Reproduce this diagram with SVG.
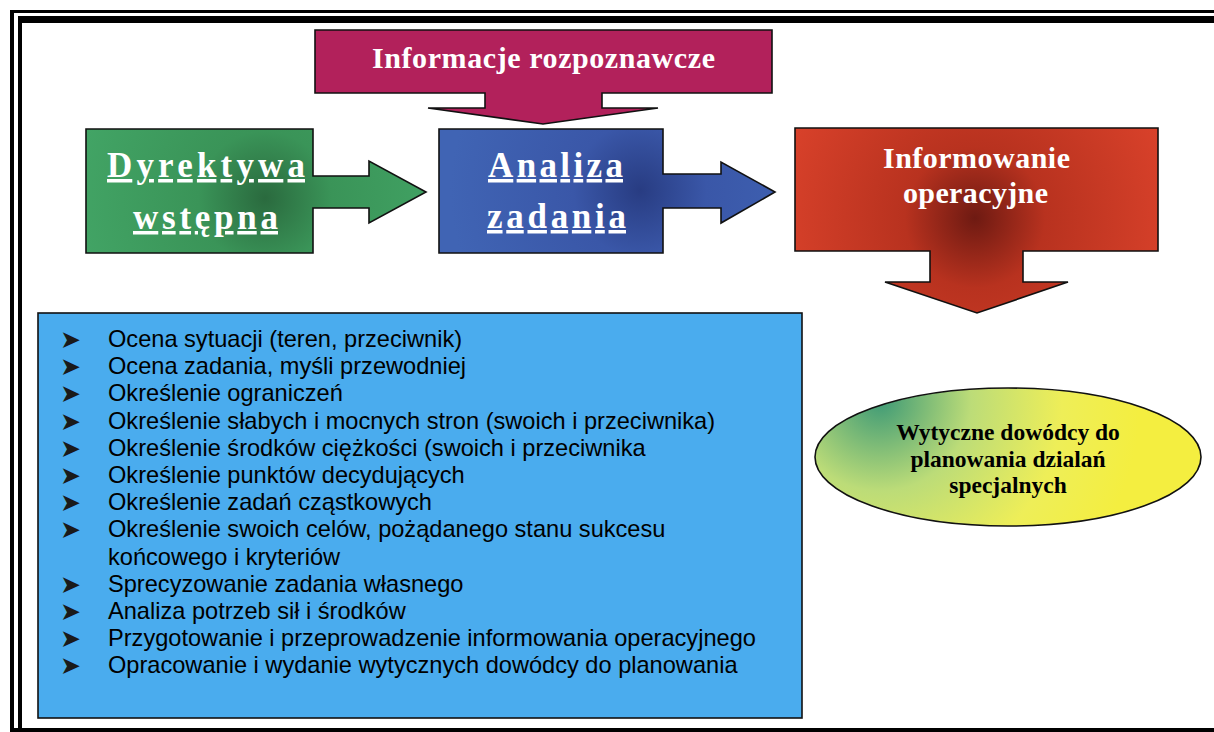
<svg xmlns="http://www.w3.org/2000/svg" width="1214" height="732" viewBox="0 0 1214 732">
<defs>
<radialGradient id="gGreen" gradientUnits="userSpaceOnUse" cx="265" cy="198" r="190">
<stop offset="0" stop-color="#2a6a3e"/><stop offset="0.35" stop-color="#3a9458"/><stop offset="1" stop-color="#42a465"/>
</radialGradient>
<radialGradient id="gBlue" gradientUnits="userSpaceOnUse" cx="640" cy="190" r="190">
<stop offset="0" stop-color="#283c82"/><stop offset="0.35" stop-color="#3a57a8"/><stop offset="1" stop-color="#4064b4"/>
</radialGradient>
<radialGradient id="gRed" gradientUnits="userSpaceOnUse" cx="975" cy="218" r="200">
<stop offset="0" stop-color="#6e1a12"/><stop offset="0.35" stop-color="#b8321f"/><stop offset="1" stop-color="#d8412a"/>
</radialGradient>
<radialGradient id="gEll" gradientUnits="userSpaceOnUse" cx="880" cy="400" r="260">
<stop offset="0" stop-color="#3e9a76"/><stop offset="0.35" stop-color="#bcdc78"/><stop offset="0.7" stop-color="#eeee58"/><stop offset="1" stop-color="#f4ee40"/>
</radialGradient>
<style>
.shape{stroke:#111;stroke-width:1.6;stroke-linejoin:miter}
.head{font-family:"Liberation Serif","Times New Roman",serif;font-weight:bold;fill:#fff}
.big{font-size:35px;text-decoration:underline}
.mid{font-size:30px}
.item{font-family:"Liberation Sans",Arial,sans-serif;font-size:23.6px;fill:#000}
.bul{font-family:"DejaVu Sans",sans-serif;font-size:25px;fill:#1a1a1a}
.ell{font-family:"Liberation Serif","Times New Roman",serif;font-weight:bold;font-size:23.5px;fill:#000}
</style>
</defs>
<rect x="0" y="0" width="1214" height="732" fill="#ffffff"/>
<g id="frame" fill="#000">
<rect x="10" y="10" width="1204" height="3"/>
<rect x="18" y="16" width="1196" height="7"/>
<rect x="10" y="10" width="4" height="722"/>
<rect x="18" y="16" width="4" height="716"/>
<rect x="10" y="728" width="1204" height="4"/>
</g>
<g id="informacje-rozpoznawcze">
<path class="shape" fill="#b2215b" d="M315,30 H772 V93 H602 V108 H658 L543,124 L428,108 H485 V93 H315 Z"/>
<text class="head mid" x="543.5" y="68" text-anchor="middle" textLength="343" lengthAdjust="spacing">Informacje rozpoznawcze</text>
</g>
<g id="dyrektywa-wstepna">
<path class="shape" fill="url(#gGreen)" d="M86,129 H313 V176 H369 V161 L426,192 L369,223 V208 H313 V253 H86 Z"/>
<text class="head big" x="206" y="177" text-anchor="middle" textLength="198" lengthAdjust="spacing">Dyrektywa</text>
<text class="head big" x="205.5" y="229" text-anchor="middle" textLength="145" lengthAdjust="spacing">wstępna</text>
</g>
<g id="analiza-zadania">
<path class="shape" fill="url(#gBlue)" d="M439,129 H663 V174 H721 V162 L775,192 L721,223 V208 H663 V253 H439 Z"/>
<text class="head big" x="555.5" y="177" text-anchor="middle" textLength="135" lengthAdjust="spacing">Analiza</text>
<text class="head big" x="556.5" y="228" text-anchor="middle" textLength="139" lengthAdjust="spacing">zadania</text>
</g>
<g id="informowanie-operacyjne">
<path class="shape" fill="url(#gRed)" d="M795,128 H1158 V251 H1023 V282 H1068 L977,313 L885,282 H930 V251 H795 Z"/>
<text class="head mid" x="976.5" y="168" text-anchor="middle" textLength="187" lengthAdjust="spacing">Informowanie</text>
<text class="head mid" x="975.5" y="203" text-anchor="middle" textLength="145" lengthAdjust="spacing">operacyjne</text>
</g>
<g id="lista-czynnosci">
<rect class="shape" x="38" y="313" width="764" height="405" fill="#4aacee"/>
<g class="bul">
<text x="60" y="348">➤</text>
<text x="60" y="375.2">➤</text>
<text x="60" y="402.4">➤</text>
<text x="60" y="429.6">➤</text>
<text x="60" y="456.8">➤</text>
<text x="60" y="484">➤</text>
<text x="60" y="511.2">➤</text>
<text x="60" y="538.4">➤</text>
<text x="60" y="592.8">➤</text>
<text x="60" y="620">➤</text>
<text x="60" y="647.2">➤</text>
<text x="60" y="674.4">➤</text>
</g>
<g class="item">
<text x="108" y="347">Ocena sytuacji (teren, przeciwnik)</text>
<text x="108" y="374.2">Ocena zadania, myśli przewodniej</text>
<text x="108" y="401.4">Określenie ograniczeń</text>
<text x="108" y="428.6">Określenie słabych i mocnych stron (swoich i przeciwnika)</text>
<text x="108" y="455.8">Określenie środków ciężkości (swoich i przeciwnika</text>
<text x="108" y="483">Określenie punktów decydujących</text>
<text x="108" y="510.2">Określenie zadań cząstkowych</text>
<text x="108" y="537.4">Określenie swoich celów, pożądanego stanu sukcesu</text>
<text x="108" y="564.6">końcowego i kryteriów</text>
<text x="108" y="591.8">Sprecyzowanie zadania własnego</text>
<text x="108" y="619">Analiza potrzeb sił i środków</text>
<text x="108" y="646.2">Przygotowanie i przeprowadzenie informowania operacyjnego</text>
<text x="108" y="673.4">Opracowanie i wydanie wytycznych dowódcy do planowania</text>
</g>
</g>
<g id="wytyczne-dowodcy">
<ellipse class="shape" cx="1008" cy="457" rx="193" ry="69" fill="url(#gEll)"/>
<text class="ell" x="1008" y="440" text-anchor="middle">Wytyczne dowódcy do</text>
<text class="ell" x="1008" y="467" text-anchor="middle">planowania dzialań</text>
<text class="ell" x="1008" y="493" text-anchor="middle">specjalnych</text>
</g>
<g id="connectors"></g>
</svg>
